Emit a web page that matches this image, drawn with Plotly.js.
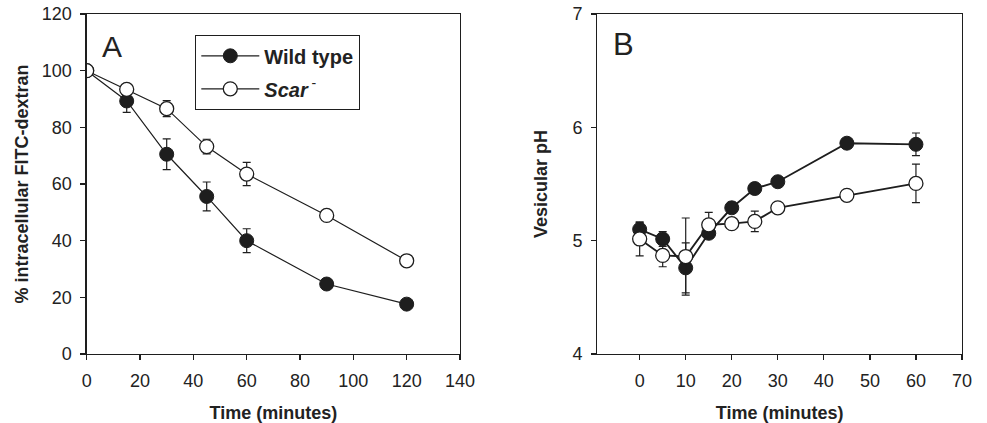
<!DOCTYPE html>
<html><head><meta charset="utf-8">
<script src="https://cdn.plot.ly/plotly-3.0.1.min.js"></script>
<style>html,body{margin:0;padding:0;background:#fff}#c{width:987px;height:423px}</style>
</head><body><div id="c"></div>
<script>
// Panel A: % intracellular FITC-dextran
const timeA = [0, 15, 30, 45, 60, 90, 120];
const wtA = [100, 89.3, 70.5, 55.6, 40.0, 24.7, 17.6];
const wtAErr = [0, 4.0, 5.4, 5.1, 4.2, 0, 0];
const scarA = [100, 93.4, 86.6, 73.2, 63.5, 48.9, 32.9];
const scarAErr = [0, 1.2, 2.8, 2.6, 4.1, 0, 0];

// Panel B: vesicular pH
const timeB = [0, 5, 10, 15, 20, 25, 30, 45, 60];
const wtB = [5.10, 5.015, 4.76, 5.065, 5.29, 5.46, 5.52, 5.86, 5.85];
const wtBErr = [0.06, 0.065, 0.22, 0.03, 0.05, 0, 0, 0, 0.10];
const scarB = [5.015, 4.87, 4.86, 5.14, 5.15, 5.17, 5.29, 5.40, 5.505];
const scarBErr = [0.15, 0.10, 0.34, 0.11, 0.03, 0.09, 0, 0, 0.17];

const names = ['<b>Wild type</b>', '<b><i>Scar</i></b><sup> -</sup>'];
const ticksA_x = [0, 20, 40, 60, 80, 100, 120, 140];
const ticksA_y = [0, 20, 40, 60, 80, 100, 120];
const ticksB_x = [0, 10, 20, 30, 40, 50, 60, 70];
const ticksB_y = [4, 5, 6, 7];

const ink = '#1e1e1e';
const errStyle = (arr) => ({type: 'data', array: arr, visible: true, color: ink, thickness: 1.2, width: 4});
const wtMarker = {symbol: 'circle', size: 14, color: ink, line: {color: ink, width: 1}};
const scarMarker = {symbol: 'circle', size: 14, color: '#fff', line: {color: ink, width: 1.3}};

const traces = [
  {x: timeA, y: wtA, error_y: errStyle(wtAErr), mode: 'lines+markers', name: names[0], legendgroup: 'wt',
   line: {color: ink, width: 1.2}, marker: wtMarker, xaxis: 'x', yaxis: 'y'},
  {x: timeA, y: scarA, error_y: errStyle(scarAErr), mode: 'lines+markers', name: names[1], legendgroup: 'scar',
   line: {color: ink, width: 1.2}, marker: scarMarker, xaxis: 'x', yaxis: 'y'},
  {x: timeB, y: wtB, error_y: errStyle(wtBErr), mode: 'lines+markers', name: names[0], showlegend: false, legendgroup: 'wt',
   line: {color: ink, width: 1.9}, marker: wtMarker, xaxis: 'x2', yaxis: 'y2'},
  {x: timeB, y: scarB, error_y: errStyle(scarBErr), mode: 'lines+markers', name: names[1], showlegend: false, legendgroup: 'scar',
   line: {color: ink, width: 1.9}, marker: scarMarker, xaxis: 'x2', yaxis: 'y2'}
];

const fam = 'Liberation Sans, Arial, sans-serif';
const axisBase = {
  showgrid: false, zeroline: false, showline: true, linecolor: ink, linewidth: 1.3,
  mirror: true, ticks: 'outside', ticklen: 5, tickwidth: 1.2, tickcolor: ink,
  ticklabelstandoff: 5,
  tickfont: {family: fam, size: 18, color: '#222'}
};
const titleFont = {family: fam, size: 18, color: '#222'};
const yDom = [1 - 354/423, 1 - 14/423];

const layout = {
  width: 987, height: 423,
  margin: {l: 0, r: 0, t: 0, b: 0},
  paper_bgcolor: '#fff', plot_bgcolor: '#fff',
  font: {family: fam, color: '#222'},
  showlegend: true,
  legend: {x: 195/987, y: 1 - 35/423, xanchor: 'left', yanchor: 'top',
    bordercolor: ink, borderwidth: 1.3, bgcolor: '#fff',
    font: {family: fam, size: 20, color: '#222'}, tracegroupgap: 4, itemwidth: 58},
  xaxis: Object.assign({}, axisBase, {domain: [86.7/987, 460/987], range: [0, 140], tickvals: ticksA_x,
    title: {text: '<b>Time (minutes)</b>', font: titleFont, standoff: 17}, anchor: 'y'}),
  yaxis: Object.assign({}, axisBase, {domain: yDom, range: [0, 120], tickvals: ticksA_y,
    title: {text: '<b>% intracellular FITC-dextran</b>', font: titleFont, standoff: 8}, anchor: 'x'}),
  xaxis2: Object.assign({}, axisBase, {domain: [597.3/987, 962/987], range: [-9.2, 70], tickvals: ticksB_x,
    title: {text: '<b>Time (minutes)</b>', font: titleFont, standoff: 17}, anchor: 'y2'}),
  yaxis2: Object.assign({}, axisBase, {domain: yDom, range: [4, 7], tickvals: ticksB_y,
    title: {text: '<b>Vesicular pH</b>', font: titleFont, standoff: 20}, anchor: 'x2'}),
  annotations: [
    {xref: 'paper', yref: 'paper', x: 100/987, y: 1 - 28/423, text: 'A', showarrow: false, xanchor: 'left', yanchor: 'top',
     font: {family: fam, size: 30, color: '#222'}},
    {xref: 'paper', yref: 'paper', x: 611/987, y: 1 - 25/423, text: 'B', showarrow: false, xanchor: 'left', yanchor: 'top',
     font: {family: fam, size: 31, color: '#222'}}
  ]
};

Plotly.newPlot('c', traces, layout, {displayModeBar: false, staticPlot: true});
</script>
</body></html>
